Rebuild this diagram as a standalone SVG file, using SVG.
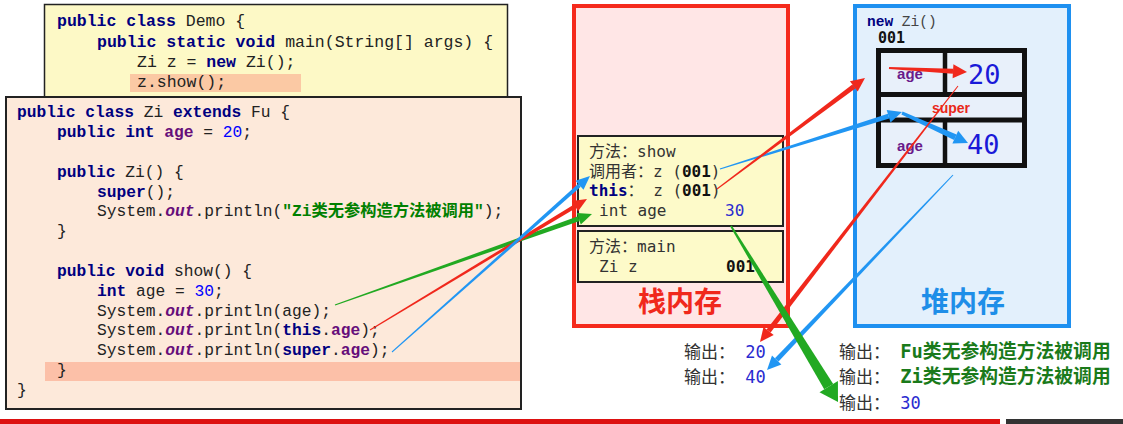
<svg xmlns="http://www.w3.org/2000/svg" width="1123" height="424" viewBox="0 0 1123 424">
<style>
text{white-space:pre}
.code{font-family:"Liberation Mono","Noto Sans CJK SC",monospace;font-size:16.25px;fill:#222}
.demo{font-size:16.5px}
.kw{font-weight:bold;fill:#000080}
.fld{font-weight:bold;fill:#660e7a}
.out{font-weight:bold;font-style:italic;fill:#660e7a}
.num{fill:#0000ff}
.str{font-weight:bold;fill:#008000}
.stk{font-family:"DejaVu Sans Mono","Noto Sans CJK SC",monospace;font-size:16px;fill:#333}
.b{font-weight:bold;fill:#111}
.blue{fill:#2a2ad0}
.frame{fill:#fdfac9;stroke:#222;stroke-width:2}
.lbl{font-family:"Liberation Sans","Noto Sans CJK SC",sans-serif;font-weight:bold;text-anchor:middle}
.big{font-family:"DejaVu Sans Mono",monospace;font-size:27px;fill:#1a1ad8}
.res{font-family:"DejaVu Sans Mono","Noto Sans CJK SC",monospace;font-size:17px;fill:#333}
.g{fill:#1a7a1a;font-weight:bold;font-size:18.8px}
.r{fill:#f0281c}
.bl{fill:#2196f3}
.gr{fill:#22a922}
</style>
<rect width="1123" height="424" fill="#ffffff"/>

<g id="demo-class">
<rect x="44.5" y="4.5" width="463" height="100" fill="#fdf9c6" stroke="#222" stroke-width="1.5"/>
<rect x="130" y="74" width="171" height="18" fill="#fbc9a4"/>
<text class="code demo" x="57" y="26"><tspan class="kw">public class</tspan> Demo {</text>
<text class="code demo" x="97" y="47"><tspan class="kw">public static void</tspan> main(String[] args) {</text>
<text class="code demo" x="137" y="67">Zi z = <tspan class="kw">new</tspan> Zi();</text>
<text class="code demo" x="137" y="87">z.show();</text>
</g>

<g id="zi-class">
<rect x="6" y="97" width="515" height="312" fill="#fde9da" stroke="#222" stroke-width="2"/>
<rect x="45" y="362" width="475" height="19" fill="#fcc0a8"/>
<text class="code" x="17" y="117"><tspan class="kw">public class</tspan> Zi <tspan class="kw">extends</tspan> Fu {</text>
<text class="code" x="57" y="137"><tspan class="kw">public int</tspan> <tspan class="fld">age</tspan> = <tspan class="num">20</tspan>;</text>
<text class="code" x="57" y="176.5"><tspan class="kw">public</tspan> Zi() {</text>
<text class="code" x="97" y="196.5"><tspan class="kw">super</tspan>();</text>
<text class="code" x="97" y="216">System.<tspan class="out">out</tspan>.println(<tspan class="str">"Zi类无参构造方法被调用"</tspan>);</text>
<text class="code" x="57" y="236">}</text>
<text class="code" x="57" y="276"><tspan class="kw">public void</tspan> show() {</text>
<text class="code" x="97" y="296"><tspan class="kw">int</tspan> age = <tspan class="num">30</tspan>;</text>
<text class="code" x="97" y="315.5">System.<tspan class="out">out</tspan>.println(age);</text>
<text class="code" x="97" y="335">System.<tspan class="out">out</tspan>.println(<tspan class="kw">this</tspan>.<tspan class="fld">age</tspan>);</text>
<text class="code" x="97" y="355">System.<tspan class="out">out</tspan>.println(<tspan class="kw">super</tspan>.<tspan class="fld">age</tspan>);</text>
<text class="code" x="57" y="375">}</text>
<text class="code" x="17" y="395">}</text>
</g>

<g id="stack">
<rect x="574" y="6" width="214" height="320" fill="#ffe6e6" stroke="#f52a1c" stroke-width="4"/>
<text class="lbl" x="680" y="312" font-size="28" fill="#f0281c">栈内存</text>
</g>

<g id="frame-show">
<rect class="frame" x="578" y="136" width="205" height="90"/>
<text class="stk" x="589" y="157">方法：show</text>
<text class="stk" x="589" y="177">调用者：z (<tspan class="b">001</tspan>)</text>
<text class="stk" x="589" y="196"><tspan class="kw">this</tspan>： z (<tspan class="b">001</tspan>)</text>
<text class="stk" x="599" y="216">int age</text>
<text class="stk blue" x="725" y="216">30</text>
</g>

<g id="frame-main">
<rect class="frame" x="578" y="231" width="205" height="51"/>
<text class="stk" x="589" y="252">方法：main</text>
<text class="stk" x="599" y="272">Zi z</text>
<text class="stk b" x="726" y="272">001</text>
</g>

<g id="heap">
<rect x="855" y="6" width="214" height="320" fill="#e3f0fc" stroke="#1e90f0" stroke-width="4"/>
<text class="code" x="867" y="26" style="font-size:14.5px"><tspan class="kw">new</tspan> <tspan fill="#444">Zi()</tspan></text>
<text class="stk b" x="878" y="43" style="font-size:15px">001</text>
<text class="lbl" x="963" y="312" font-size="28" fill="#1e8ee8">堆内存</text>
</g>

<g id="zi-object">
<rect x="878.5" y="50.5" width="146" height="115" fill="#e8f0fa" stroke="#111" stroke-width="5"/>
<line x1="878" y1="94.5" x2="1025" y2="94.5" stroke="#111" stroke-width="5"/>
<line x1="878" y1="120" x2="1025" y2="120" stroke="#111" stroke-width="5"/>
<line x1="945" y1="50" x2="945" y2="94" stroke="#111" stroke-width="4.5"/>
<line x1="945" y1="120" x2="945" y2="166" stroke="#111" stroke-width="4.5"/>
<text class="lbl" x="910" y="79" font-size="15" fill="#6a1b8a">age</text>
<text class="big" x="968" y="84">20</text>
<text class="lbl" x="951" y="113" font-size="14" fill="#e8281a">super</text>
<text class="lbl" x="910" y="151" font-size="15" fill="#6a1b8a">age</text>
<text class="big" x="967" y="154">40</text>
</g>

<g id="output">
<text class="res" x="684" y="358">输出： <tspan class="blue">20</tspan></text>
<text class="res" x="684" y="383">输出： <tspan class="blue">40</tspan></text>
<text class="res" x="839" y="358">输出： <tspan class="g">Fu类无参构造方法被调用</tspan></text>
<text class="res" x="839" y="383">输出： <tspan class="g">Zi类无参构造方法被调用</tspan></text>
<text class="res" x="839" y="409">输出： <tspan class="blue">30</tspan></text>
</g>

<g id="footer">
<rect x="0" y="419" width="1000" height="5" fill="#dd1111"/>
<rect x="1006" y="419" width="117" height="5" fill="#333"/>
</g>

<g id="connectors">
<polygon class="gr" points="335.2,305.5 334.8,304.5 578.0,216.3 579.6,221.1"/>
<polygon class="gr" points="580.8,224.4 592,214 576.8,213.0"/>
<polygon class="r" points="370.3,330.4 369.7,329.6 574.0,204.5 576.0,207.9"/>
<polygon class="r" points="578.1,211.3 587,199 571.9,201.1"/>
<polygon class="bl" points="392.3,352.4 391.7,351.6 578.2,183.8 580.8,186.8"/>
<polygon class="bl" points="583.5,189.8 590,176 575.5,180.8"/>
<polygon class="bl" points="720.2,169.5 719.8,168.5 887.9,113.8 889.3,118.6"/>
<polygon class="bl" points="890.5,122.4 902,112 886.7,110.0"/>
<polygon class="bl" points="901.4,114.4 902.6,111.6 956.5,134.5 954.1,139.9"/>
<polygon class="bl" points="952.4,143.6 968,143 958.2,130.8"/>
<polygon class="r" points="717.3,189.4 716.7,188.6 852.3,84.4 855.3,88.4"/>
<polygon class="r" points="857.7,91.6 865,78 849.9,81.2"/>
<polygon class="r" points="888.9,69.0 889.1,67.0 953.1,68.8 952.9,73.8"/>
<polygon class="r" points="952.6,78.3 967,72 953.4,64.3"/>
<polygon class="r" points="957.6,85.7 958.4,86.3 770.6,332.4 766.6,329.4"/>
<polygon class="r" points="763.5,326.9 760,342 773.7,334.9"/>
<polygon class="bl" points="952.6,174.7 953.4,175.3 778.5,361.6 774.9,358.2"/>
<polygon class="bl" points="772.0,355.4 767,370 781.4,364.4"/>
<polygon class="gr" points="730.2,226.5 731.8,225.5 833.2,384.0 824.2,389.2"/>
<polygon class="gr" points="819.5,392.2 838,402 837.9,380.9"/>
</g>
</svg>
